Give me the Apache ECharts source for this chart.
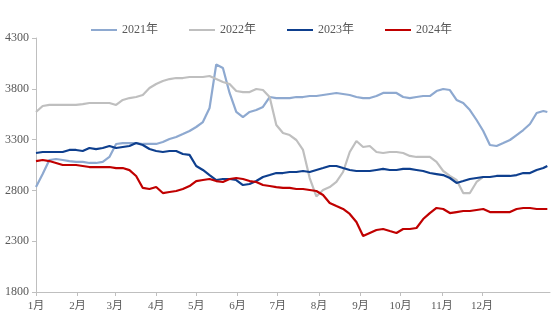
<!DOCTYPE html>
<html>
<head>
<meta charset="utf-8">
<script src="https://cdn.jsdelivr.net/npm/echarts@6/dist/echarts.min.js"></script>
<style>html,body{margin:0;padding:0;background:#fff;}#c{width:554px;height:323px;}</style>
</head>
<body>
<div id="c"></div>
<script>
// day-of-year sample positions
var days = [0,5,10,15,20,25,30,35,40,45,50,55,60,65,70,75,80,85,90,95,100,105,110,115,120,125,130,135,140,145,150,155,160,165,170,175,180,185,190,195,200,205,210,215,220,225,230,235,240,245,250,255,260,265,270,275,280,285,290,295,300,305,310,315,320,325,330,335,340,345,350,355,360,365,370,375,380,383];
var monthStarts = [0,31,59,90,120,151,181,212,243,273,304,334];
var monthLabels = ['1月','2月','3月','4月','5月','6月','7月','8月','9月','10月','11月','12月'];
var seriesNames = ['2021年','2022年','2023年','2024年'];
var yTicks = [1800,2300,2800,3300,3800,4300];

var s2021 = [2833,2961,3099,3109,3099,3089,3080,3080,3070,3070,3080,3129,3257,3266,3266,3266,3257,3257,3257,3276,3306,3326,3355,3385,3424,3473,3611,4040,4005,3759,3572,3522,3572,3591,3621,3719,3709,3709,3709,3719,3719,3729,3729,3739,3749,3759,3749,3739,3719,3709,3709,3729,3759,3759,3759,3719,3709,3719,3729,3729,3778,3798,3788,3690,3660,3591,3493,3385,3247,3237,3266,3296,3345,3394,3453,3562,3582,3572];
var s2022 = [3572,3631,3641,3641,3641,3641,3641,3650,3660,3660,3660,3660,3641,3690,3709,3719,3739,3808,3847,3877,3896,3906,3906,3916,3916,3916,3926,3896,3867,3847,3778,3768,3768,3798,3788,3719,3444,3365,3345,3296,3198,2922,2740,2804,2833,2883,2981,3178,3286,3227,3237,3178,3168,3178,3178,3168,3139,3129,3129,3129,3080,2991,2942,2902,2774,2774,2883,2932,null,null,null,null,null,null,null,null,null,null];
var s2023 = [3168,3178,3178,3178,3178,3198,3198,3188,3217,3207,3217,3237,3217,3227,3237,3266,3247,3207,3188,3178,3188,3188,3158,3149,3040,3001,2951,2902,2912,2912,2902,2853,2863,2892,2932,2951,2971,2971,2981,2981,2991,2981,3001,3020,3040,3040,3020,3001,2991,2991,2991,3001,3011,3001,3001,3011,3011,3001,2991,2971,2961,2951,2922,2873,2892,2912,2922,2932,2932,2942,2942,2942,2951,2971,2971,3001,3020,3040];
var s2024 = [3089,3099,3089,3070,3050,3050,3050,3040,3030,3030,3030,3030,3020,3020,3000,2942,2824,2814,2833,2774,2784,2794,2814,2843,2892,2902,2912,2892,2883,2912,2922,2912,2892,2883,2853,2843,2833,2824,2824,2814,2814,2804,2794,2755,2676,2646,2617,2568,2489,2351,2381,2410,2420,2400,2381,2420,2420,2430,2518,2577,2627,2617,2577,2587,2597,2597,2607,2617,2587,2587,2587,2587,2617,2627,2627,2617,2617,2617];

var colors = ['#8EA9D0','#BFBFBF','#0E3F8E','#C00000'];
var allData = [s2021, s2022, s2023, s2024];
var fontFam = "'Liberation Serif','Times New Roman','Noto Sans CJK SC',serif";

var chart = echarts.init(document.getElementById('c'), null, {renderer:'canvas'});
chart.setOption({
  animation: false,
  color: colors,
  legend: {
    top: 19, left: 86,
    icon: 'rect', itemWidth: 26, itemHeight: 2, itemGap: 31,
    textStyle: {color:'#595959', fontSize: 12, fontFamily: fontFam},
    data: seriesNames
  },
  grid: {left: 36, right: 4, top: 38, bottom: 31, containLabel: false},
  xAxis: {
    type: 'value', min: 0, max: 385,
    axisLine: {show:true, lineStyle:{color:'#BFBFBF', width:1}},
    axisTick: {show:true, customValues: monthStarts, length: 4, lineStyle:{color:'#BFBFBF'}},
    axisLabel: {customValues: monthStarts, color:'#595959', fontSize: 11, fontFamily: fontFam, margin: 9,
      formatter: function(v){ var i = monthStarts.indexOf(v); return i >= 0 ? monthLabels[i] : ''; }},
    splitLine: {show:false}
  },
  yAxis: {
    type: 'value', min: yTicks[0], max: yTicks[yTicks.length-1], interval: 500,
    axisLine: {show:true, lineStyle:{color:'#BFBFBF', width:1}},
    axisTick: {show:true, length: 4, lineStyle:{color:'#BFBFBF'}},
    axisLabel: {color:'#595959', fontSize: 12, fontFamily: fontFam, margin: 7,
      formatter: function(v){ return String(v); }},
    splitLine: {show:false}
  },
  series: seriesNames.map(function(name, k){
    return {
      name: name, type: 'line', showSymbol: false, symbol: 'none',
      lineStyle: {width: 2.2, color: colors[k]},
      itemStyle: {color: colors[k]},
      connectNulls: false,
      data: days.map(function(d, i){ return [d, allData[k][i]]; })
    };
  })
});
</script>
</body>
</html>
